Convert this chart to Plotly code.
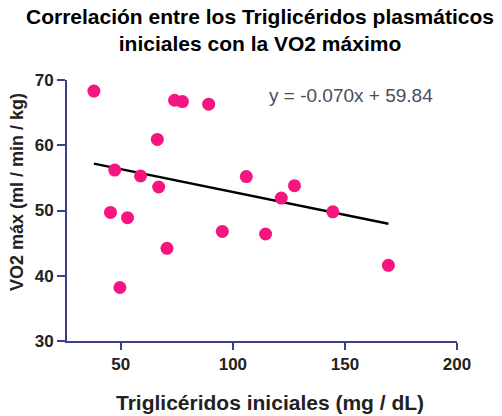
import plotly.graph_objects as go

trig = [38, 74, 77.5, 89.2, 66.3, 47.3, 58.8, 66.9, 106, 45.4, 53, 70.6, 49.6, 95.3, 114.6, 127.5, 121.6, 144.6, 169.4]
vo2 = [68.3, 66.9, 66.7, 66.3, 60.9, 56.2, 55.3, 53.6, 55.2, 49.7, 48.9, 44.2, 38.2, 46.8, 46.4, 53.8, 51.9, 49.8, 41.6]
slope = -0.070
intercept = 59.84
x_ticks = [50, 100, 150, 200]
y_ticks = [30, 40, 50, 60, 70]

fit_x = [min(trig), max(trig)]
fit_y = [slope * v + intercept for v in fit_x]

font = "Liberation Sans, Arial, sans-serif"
axis_col = "#3b3f8c"
txt_col = "#222222"

fig = go.Figure()
fig.add_trace(go.Scatter(x=fit_x, y=fit_y, mode="lines",
                         line=dict(color="black", width=2.5), showlegend=False))
fig.add_trace(go.Scatter(x=trig, y=vo2, mode="markers",
                         marker=dict(color="#f5157f", size=13), showlegend=False))

fig.add_annotation(x=152.7, y=67.6, text="y = -0.070x + 59.84", showarrow=False,
                   font=dict(family=font, size=19, color="#474d5c"))

# titles
fig.add_annotation(xref="paper", yref="paper", x=0.495, y=1.19, xanchor="center", yanchor="middle",
                   text="<b>Correlación entre los Triglicéridos plasmáticos<br>iniciales con la VO2 máximo</b>",
                   showarrow=False, font=dict(family=font, size=21, color="black"))
fig.add_annotation(xref="paper", yref="paper", x=0.52, y=-0.2375, xanchor="center", yanchor="middle",
                   text="<b>Triglicéridos iniciales (mg / dL)</b>",
                   showarrow=False, font=dict(family=font, size=21, color=txt_col))
fig.add_annotation(xref="paper", yref="paper", x=-0.128, y=0.571, xanchor="center", yanchor="middle",
                   text="<b>VO2 máx (ml / min / kg)</b>", textangle=-90,
                   showarrow=False, font=dict(family=font, size=18, color=txt_col))

fig.update_layout(
    width=502, height=416,
    margin=dict(l=67, r=45, t=80, b=75),
    paper_bgcolor="white", plot_bgcolor="white",
    xaxis=dict(range=[26, 200], tickvals=x_ticks, ticktext=[f"<b>{v}</b>" for v in x_ticks],
               showgrid=False, zeroline=False, showline=True, linecolor=axis_col, linewidth=2,
               ticks="outside", ticklen=7, tickwidth=2, tickcolor=axis_col, automargin=False,
               tickfont=dict(family=font, size=17, color=txt_col)),
    yaxis=dict(range=[30, 70], tickvals=y_ticks, ticktext=[f"<b>{v}</b>" for v in y_ticks],
               showgrid=False, zeroline=False, showline=True, linecolor=axis_col, linewidth=2,
               ticks="outside", ticklen=8, tickwidth=2, tickcolor=axis_col, automargin=False,
               tickfont=dict(family=font, size=17, color=txt_col)),
)

fig.write_html("out.html", config={"displayModeBar": False},
               post_script="document.body.style.margin='0';document.body.style.overflow='hidden';")
